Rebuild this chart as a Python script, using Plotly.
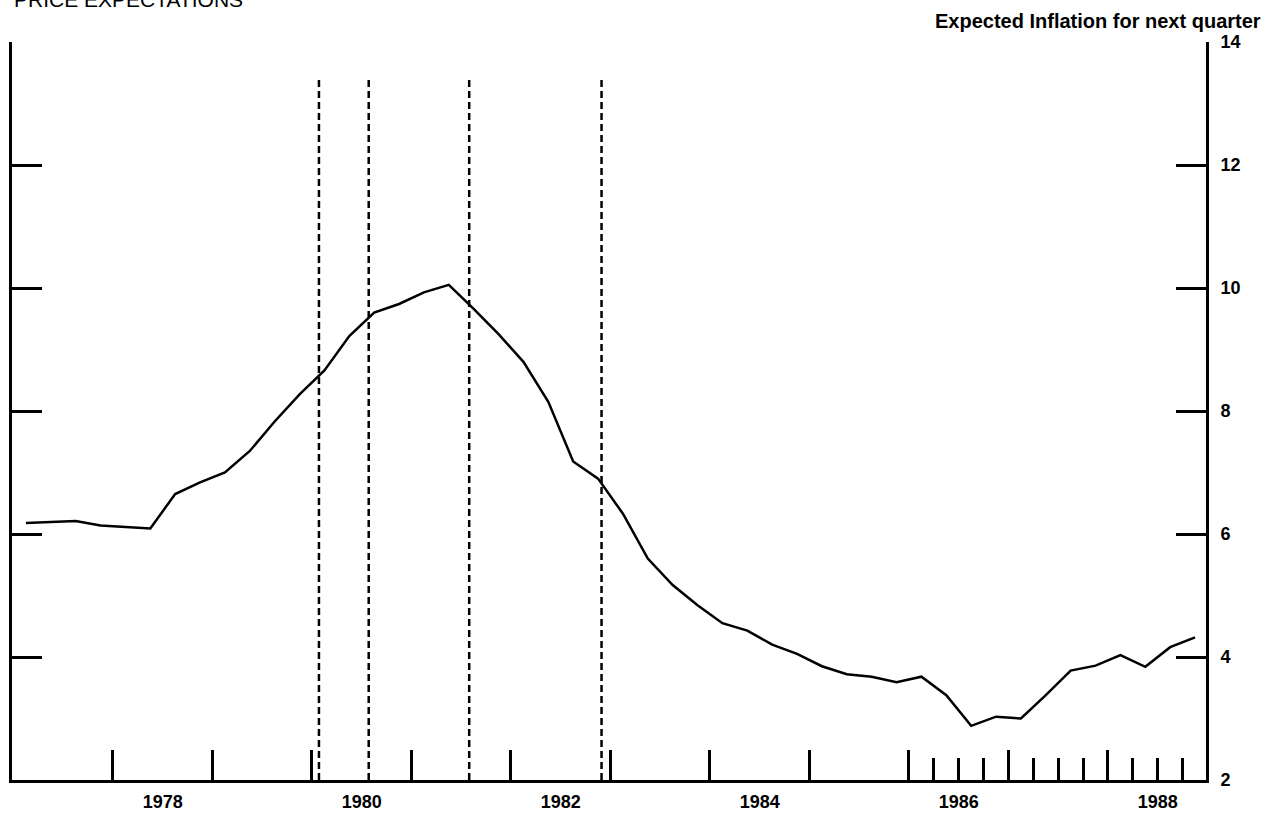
import plotly.graph_objects as go

# quarterly observations (mid-quarter dates)
quarters = [
    1977.125, 1977.375, 1977.625, 1977.875,
    1978.125, 1978.375, 1978.625, 1978.875,
    1979.125, 1979.375, 1979.625, 1979.875,
    1980.125, 1980.375, 1980.625, 1980.875,
    1981.125, 1981.375, 1981.625, 1981.875,
    1982.125, 1982.375, 1982.625, 1982.875,
    1983.125, 1983.375, 1983.625, 1983.875,
    1984.125, 1984.375, 1984.625, 1984.875,
    1985.125, 1985.375, 1985.625, 1985.875,
    1986.125, 1986.375, 1986.625, 1986.875,
    1987.125, 1987.375, 1987.625, 1987.875,
    1988.125, 1988.375, 1988.625, 1988.875,
]
expected_inflation = [
    6.18, 6.20, 6.21, 6.14,
    6.11, 6.09, 6.65, 6.84,
    7.00, 7.35, 7.83, 8.27,
    8.66, 9.22, 9.60, 9.74,
    9.93, 10.05, 9.66, 9.25,
    8.80, 8.15, 7.18, 6.90,
    6.33, 5.60, 5.17, 4.84,
    4.55, 4.43, 4.20, 4.05,
    3.85, 3.72, 3.68, 3.59,
    3.68, 3.38, 2.88, 3.03,
    3.00, 3.38, 3.78, 3.86,
    4.03, 3.84, 4.16, 4.32,
]

# dates marked with dashed vertical lines
turning_points = [1980.07, 1980.57, 1981.58, 1982.91]
dash_top = 13.41

year_ticks = [1978, 1979, 1980, 1981, 1982, 1983, 1984, 1985, 1986, 1987, 1988]
quarter_ticks = [1986.25, 1986.5, 1986.75, 1987.25, 1987.5, 1987.75,
                 1988.25, 1988.5, 1988.75]
label_pos = [1978.5, 1980.5, 1982.5, 1984.5, 1986.5, 1988.5]
label_text = ["1978", "1980", "1982", "1984", "1986", "1988"]
y_ticks = [2, 4, 6, 8, 10, 12, 14]

x_range = [1976.985, 1988.985]
font_name = "Liberation Sans"

fig = go.Figure()

fig.add_trace(go.Scatter(
    x=quarters,
    y=expected_inflation,
    mode="lines",
    line=dict(color="black", width=2.5),
    showlegend=False,
))

for d in turning_points:
    fig.add_shape(
        type="line", x0=d, x1=d, y0=y_ticks[0], y1=dash_top,
        xref="x", yref="y",
        line=dict(color="black", width=2.5, dash="7px,4px"),
    )

fig.update_layout(
    width=1274,
    height=822,
    margin=dict(l=9, r=68, t=42, b=42),
    plot_bgcolor="white",
    paper_bgcolor="white",
    font=dict(family=font_name, color="black"),
    xaxis=dict(
        range=x_range,
        showgrid=False,
        zeroline=False,
        showline=True,
        linecolor="black",
        linewidth=3,
        ticks="inside",
        tickmode="array",
        tickvals=year_ticks,
        ticklen=30,
        tickwidth=2.5,
        tickcolor="black",
        showticklabels=False,
        minor=dict(
            tickmode="array",
            tickvals=quarter_ticks,
            ticks="inside",
            ticklen=22,
            tickwidth=2.5,
            tickcolor="black",
            showgrid=False,
        ),
    ),
    xaxis2=dict(
        range=x_range,
        overlaying="x",
        anchor="y",
        side="bottom",
        showgrid=False,
        zeroline=False,
        showline=False,
        ticks="",
        tickmode="array",
        tickvals=label_pos,
        ticktext=label_text,
        tickfont=dict(size=18, weight="bold"),
        ticklabelstandoff=9,
    ),
    yaxis=dict(
        range=[2, 14],
        side="right",
        showgrid=False,
        zeroline=False,
        showline=True,
        linecolor="black",
        linewidth=3,
        mirror="ticks",
        ticks="inside",
        tickmode="array",
        tickvals=y_ticks,
        ticklen=30,
        tickwidth=2.5,
        tickcolor="black",
        tickfont=dict(size=18, weight="bold"),
        ticklabelstandoff=8,
    ),
)

# invisible trace so the label axis is drawn
fig.add_trace(go.Scatter(x=[label_pos[0]], y=[y_ticks[0]], xaxis="x2",
                         mode="markers", marker=dict(opacity=0),
                         showlegend=False, hoverinfo="skip"))

fig.add_annotation(
    text="PRICE EXPECTATIONS",
    xref="paper", yref="paper",
    x=0.0, y=1.0575, xanchor="left", yanchor="middle",
    showarrow=False,
    font=dict(size=21, color="black"),
)
fig.add_annotation(
    text="Expected Inflation for next quarter",
    xref="paper", yref="paper",
    x=1.048, y=1.0285, xanchor="right", yanchor="middle",
    showarrow=False,
    font=dict(size=20, weight="bold", color="black"),
)

fig.write_html("out.html", config={"displayModeBar": False},
               post_script="document.body.style.margin='0';")
